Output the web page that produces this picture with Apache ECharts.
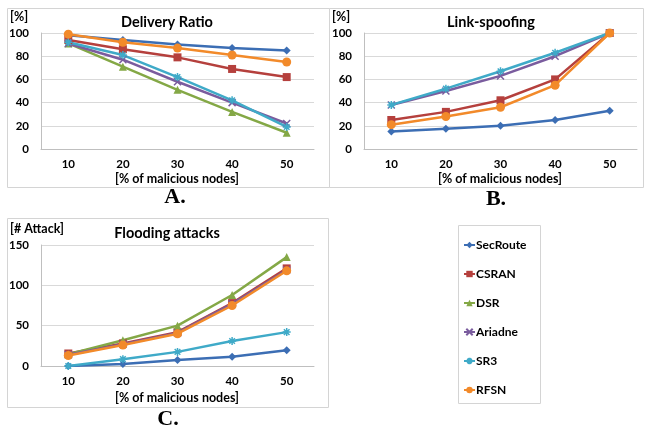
<!DOCTYPE html>
<html><head><meta charset="utf-8">
<script src="https://cdn.jsdelivr.net/npm/echarts@6/dist/echarts.min.js"></script>
<style>html,body{margin:0;padding:0;background:#fff}#c{width:647px;height:430px}</style>
</head><body><div id="c"></div>
<script>
var categories = ['10','20','30','40','50'];
var seriesNames = ['SecRoute','CSRAN','DSR','Ariadne','SR3','RFSN'];
// A. Delivery Ratio [%]
var delSecRoute = [98, 94, 90, 87, 85];
var delCSRAN    = [94, 86, 79, 69, 62];
var delDSR      = [91, 71, 51, 32, 14];
var delAriadne  = [91, 77, 58, 40, 22];
var delSR3      = [92, 81, 62, 42, 19];
var delRFSN     = [99, 92, 87, 81, 75];
// B. Link-spoofing [%]
var linkSecRoute = [15, 17.5, 20, 25, 33];
var linkCSRAN    = [25, 32, 42, 60, 100];
var linkDSR      = [null, null, null, null, null];
var linkAriadne  = [38, 50, 63, 80, 100];
var linkSR3      = [38, 52, 67, 83, 100];
var linkRFSN     = [21, 28, 36, 55, 100];
// C. Flooding attacks [# Attack]
var floSecRoute = [0, 2.5, 7.5, 11.5, 19.5];
var floCSRAN    = [15.5, 28, 42, 78, 121];
var floDSR      = [14.5, 32, 50, 88, 135];
var floAriadne  = [14, 27, 41, 77, 119];
var floSR3      = [0, 8.5, 17.5, 31, 42];
var floRFSN     = [13, 26, 40, 75, 118];

var panelA = [delSecRoute, delCSRAN, delDSR, delAriadne, delSR3, delRFSN];
var panelB = [linkSecRoute, linkCSRAN, linkDSR, linkAriadne, linkSR3, linkRFSN];
var panelC = [floSecRoute, floCSRAN, floDSR, floAriadne, floSR3, floRFSN];

var colors = ['#3C6EB4','#B5403D','#84A846','#7A5C9E','#3FAAC8','#F28A2A'];
var symbols = [
  'diamond', 'rect', 'triangle',
  'path://M0,0L10,10M10,0L0,10',
  'path://M0,5L10,5M5,0L5,10M1.5,1.5L8.5,8.5M8.5,1.5L1.5,8.5',
  'circle'
];
var symSizes = [8, 8, 8, 7, 8, 9];
var FONT = 'Lato';

function mkSeries(data, gi) {
  return data.map(function (vals, i) {
    var isPath = symbols[i].indexOf('path') === 0;
    return {
      name: seriesNames[i], type: 'line', xAxisIndex: gi, yAxisIndex: gi,
      data: vals, symbol: symbols[i], symbolSize: symSizes[i],
      lineStyle: { color: colors[i], width: 2.5 },
      itemStyle: { color: colors[i], borderColor: colors[i], borderWidth: isPath ? 1.5 : 0 },
      emphasis: { disabled: true }, animation: false, z: 3 + (i === 5 ? 1 : 0)
    };
  });
}

var grids = [
  { left: 41, top: 33, width: 273, height: 116 },
  { left: 364, top: 33, width: 273, height: 116 },
  { left: 41, top: 245, width: 273, height: 121 }
];
var xAxes = grids.map(function (g, i) {
  return {
    type: 'category', gridIndex: i, data: categories, boundaryGap: true,
    axisLine: { lineStyle: { color: '#bfbfbf', width: 1 } }, axisTick: { show: false },
    axisLabel: { fontFamily: FONT, fontWeight: 'bold', fontSize: 11.5, color: '#000', margin: 9 }
  };
});
var yAxes = [
  { max: 100, interval: 20 }, { max: 100, interval: 20 }, { max: 150, interval: 50 }
].map(function (o, i) {
  return {
    type: 'value', gridIndex: i, min: 0, max: o.max, interval: o.interval,
    axisLine: { show: true, lineStyle: { color: '#bfbfbf', width: 1 } }, axisTick: { show: false },
    splitLine: { lineStyle: { color: '#d9d9d9', width: 1 } },
    axisLabel: { fontFamily: FONT, fontWeight: 'bold', fontSize: 11.5, color: '#000', margin: 12 }
  };
});

function txt(x, y, s, size, opts) {
  opts = opts || {};
  return { type: 'text', x: x, y: y, z: 10, style: {
    text: s, fontFamily: opts.family || FONT, fontWeight: 'bold', fontSize: size,
    fill: '#000', textAlign: opts.align || 'center', textVerticalAlign: 'middle' } };
}
function box(x, y, w, h) {
  return { type: 'rect', shape: { x: x + 0.5, y: y + 0.5, width: w, height: h }, z: 0,
    style: { fill: 'none', stroke: '#d4d4d4', lineWidth: 1 } };
}

var chart = echarts.init(document.getElementById('c'), null, { renderer: 'canvas' });
chart.setOption({
  animation: false,
  grid: grids,
  xAxis: xAxes,
  yAxis: yAxes,
  legend: {
    orient: 'vertical', left: 463, top: 239, itemWidth: 11, itemHeight: 8, itemGap: 17,
    padding: 0,
    data: seriesNames,
    textStyle: { fontFamily: FONT, fontWeight: 'bold', fontSize: 12, color: '#000', padding: [0, 0, 0, -4] }
  },
  series: [].concat(mkSeries(panelA, 0), mkSeries(panelB, 1), mkSeries(panelC, 2)),
  graphic: [
    box(7, 8, 322, 179), box(329, 8, 314, 179), box(7, 218, 321, 189), box(458, 225, 82, 178),
    txt(167, 22, 'Delivery Ratio', 14.5),
    txt(10, 17, '[%]', 12.5, { align: 'left' }),
    txt(177, 179, '[% of malicious nodes]', 12.5),
    txt(175, 197, 'A.', 22, { family: 'Liberation Serif' }),
    txt(491, 22, 'Link-spoofing', 14.5),
    txt(332, 17, '[%]', 12.5, { align: 'left' }),
    txt(500, 179, '[% of malicious nodes]', 12.5),
    txt(496, 199, 'B.', 22, { family: 'Liberation Serif' }),
    txt(167, 233, 'Flooding attacks', 14.5),
    txt(10, 229, '[# Attack]', 12.5, { align: 'left' }),
    txt(177, 398, '[% of malicious nodes]', 12.5),
    txt(168, 419, 'C.', 22, { family: 'Liberation Serif' })
  ]
});
</script></body></html>
